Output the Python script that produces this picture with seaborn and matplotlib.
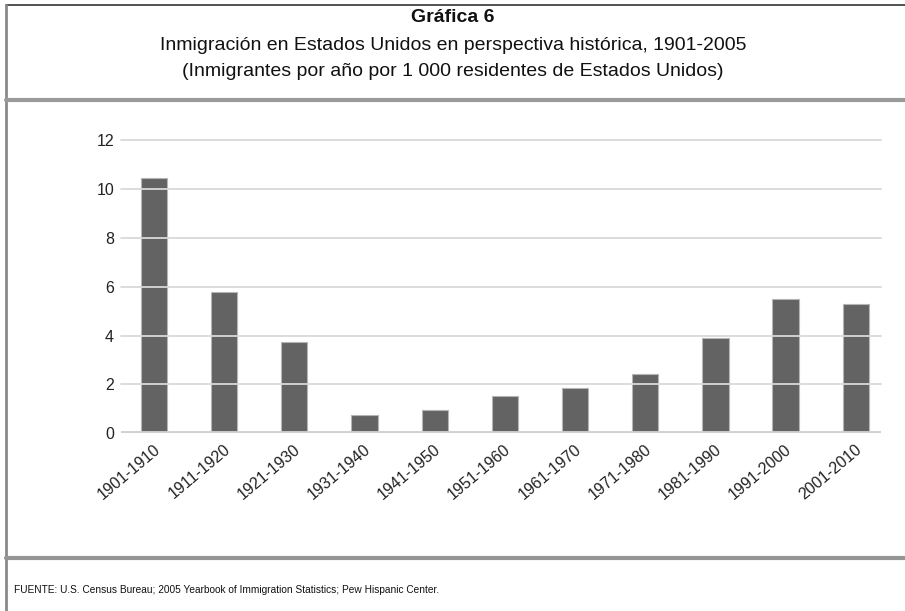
import matplotlib
matplotlib.use("Agg")
import matplotlib.pyplot as plt
import matplotlib.transforms as mtrans
import seaborn as sns
import pandas as pd
from matplotlib.lines import Line2D

periods = ["1901-1910", "1911-1920", "1921-1930", "1931-1940", "1941-1950",
           "1951-1960", "1961-1970", "1971-1980", "1981-1990", "1991-2000",
           "2001-2010"]
values = [10.45, 5.8, 3.72, 0.75, 0.94, 1.54, 1.84, 2.42, 3.9, 5.5, 5.3]
yticks = [0, 2, 4, 6, 8, 10, 12]

title_bold = "Gráfica 6"
title_main = "Inmigración en Estados Unidos en perspectiva histórica, 1901-2005"
title_sub = "(Inmigrantes por año por 1 000 residentes de Estados Unidos)"
source = "FUENTE: U.S. Census Bureau; 2005 Yearbook of Immigration Statistics; Pew Hispanic Center."

sns.set_theme(style="white")
plt.rcParams['font.family'] = ['Liberation Sans', 'DejaVu Sans']

W, H = 905, 611
fig = plt.figure(figsize=(W / 100, H / 100), dpi=100)

def fx(px):
    return px / W

def fy(py):
    return 1 - py / H

ax = fig.add_axes([fx(121), fy(433.3), fx(881) - fx(121), fy(140) - fy(433.3)])

df = pd.DataFrame({"period": periods, "value": values})
sns.barplot(data=df, x="period", y="value", ax=ax, color="#636363",
            width=0.375, edgecolor="#b5b5b5", linewidth=0.8, saturation=1,
            zorder=2)

ax.set_xlim(-0.47, 10.36)
ax.set_ylim(0, 12)
ax.set_yticks(yticks)
ax.set_yticklabels([str(v) for v in yticks], fontsize=11.5, color="#222222")
for t in yticks[1:]:
    ax.axhline(t, color="#d9d9d9", lw=1.3, zorder=3, clip_on=False)
ax.axhline(0, color="#d0d0d0", lw=3.5, zorder=3)
ax.tick_params(axis="y", length=0, pad=5)
ax.tick_params(axis="x", length=0, pad=10)
ax.set_xticks(range(len(periods)))
ax.set_xticklabels(periods, rotation=40, ha="right", va="center",
                   rotation_mode="anchor", fontsize=11.5, color="#222222")
offset = mtrans.ScaledTranslation(4 / 100, 0, fig.dpi_scale_trans)
for lab in ax.get_xticklabels():
    lab.set_transform(lab.get_transform() + offset)
ax.set_xlabel("")
ax.set_ylabel("")
for s in ax.spines.values():
    s.set_visible(False)

# Frame lines
fig.add_artist(Line2D([fx(6), 1], [fy(5), fy(5)], color="#333333", lw=1.2))
fig.add_artist(Line2D([fx(6), fx(6)], [fy(5), 0], color="#8a8a8a", lw=2))
fig.add_artist(Line2D([fx(6), 1], [fy(100.3), fy(100.3)], color="#9a9a9a", lw=3))
fig.add_artist(Line2D([fx(6), 1], [fy(558), fy(558)], color="#959595", lw=3))

# Titles
fig.text(fx(453), fy(17), title_bold, ha="center", va="center",
         fontsize=14, fontweight="bold", color="#111111")
fig.text(fx(453), fy(45), title_main, ha="center", va="center",
         fontsize=14, color="#111111")
fig.text(fx(453), fy(71), title_sub, ha="center", va="center",
         fontsize=14, color="#111111")
fig.text(fx(14), fy(590), source, ha="left", va="center",
         fontsize=7.3, color="#111111")

fig.savefig("out.png", dpi=100)
